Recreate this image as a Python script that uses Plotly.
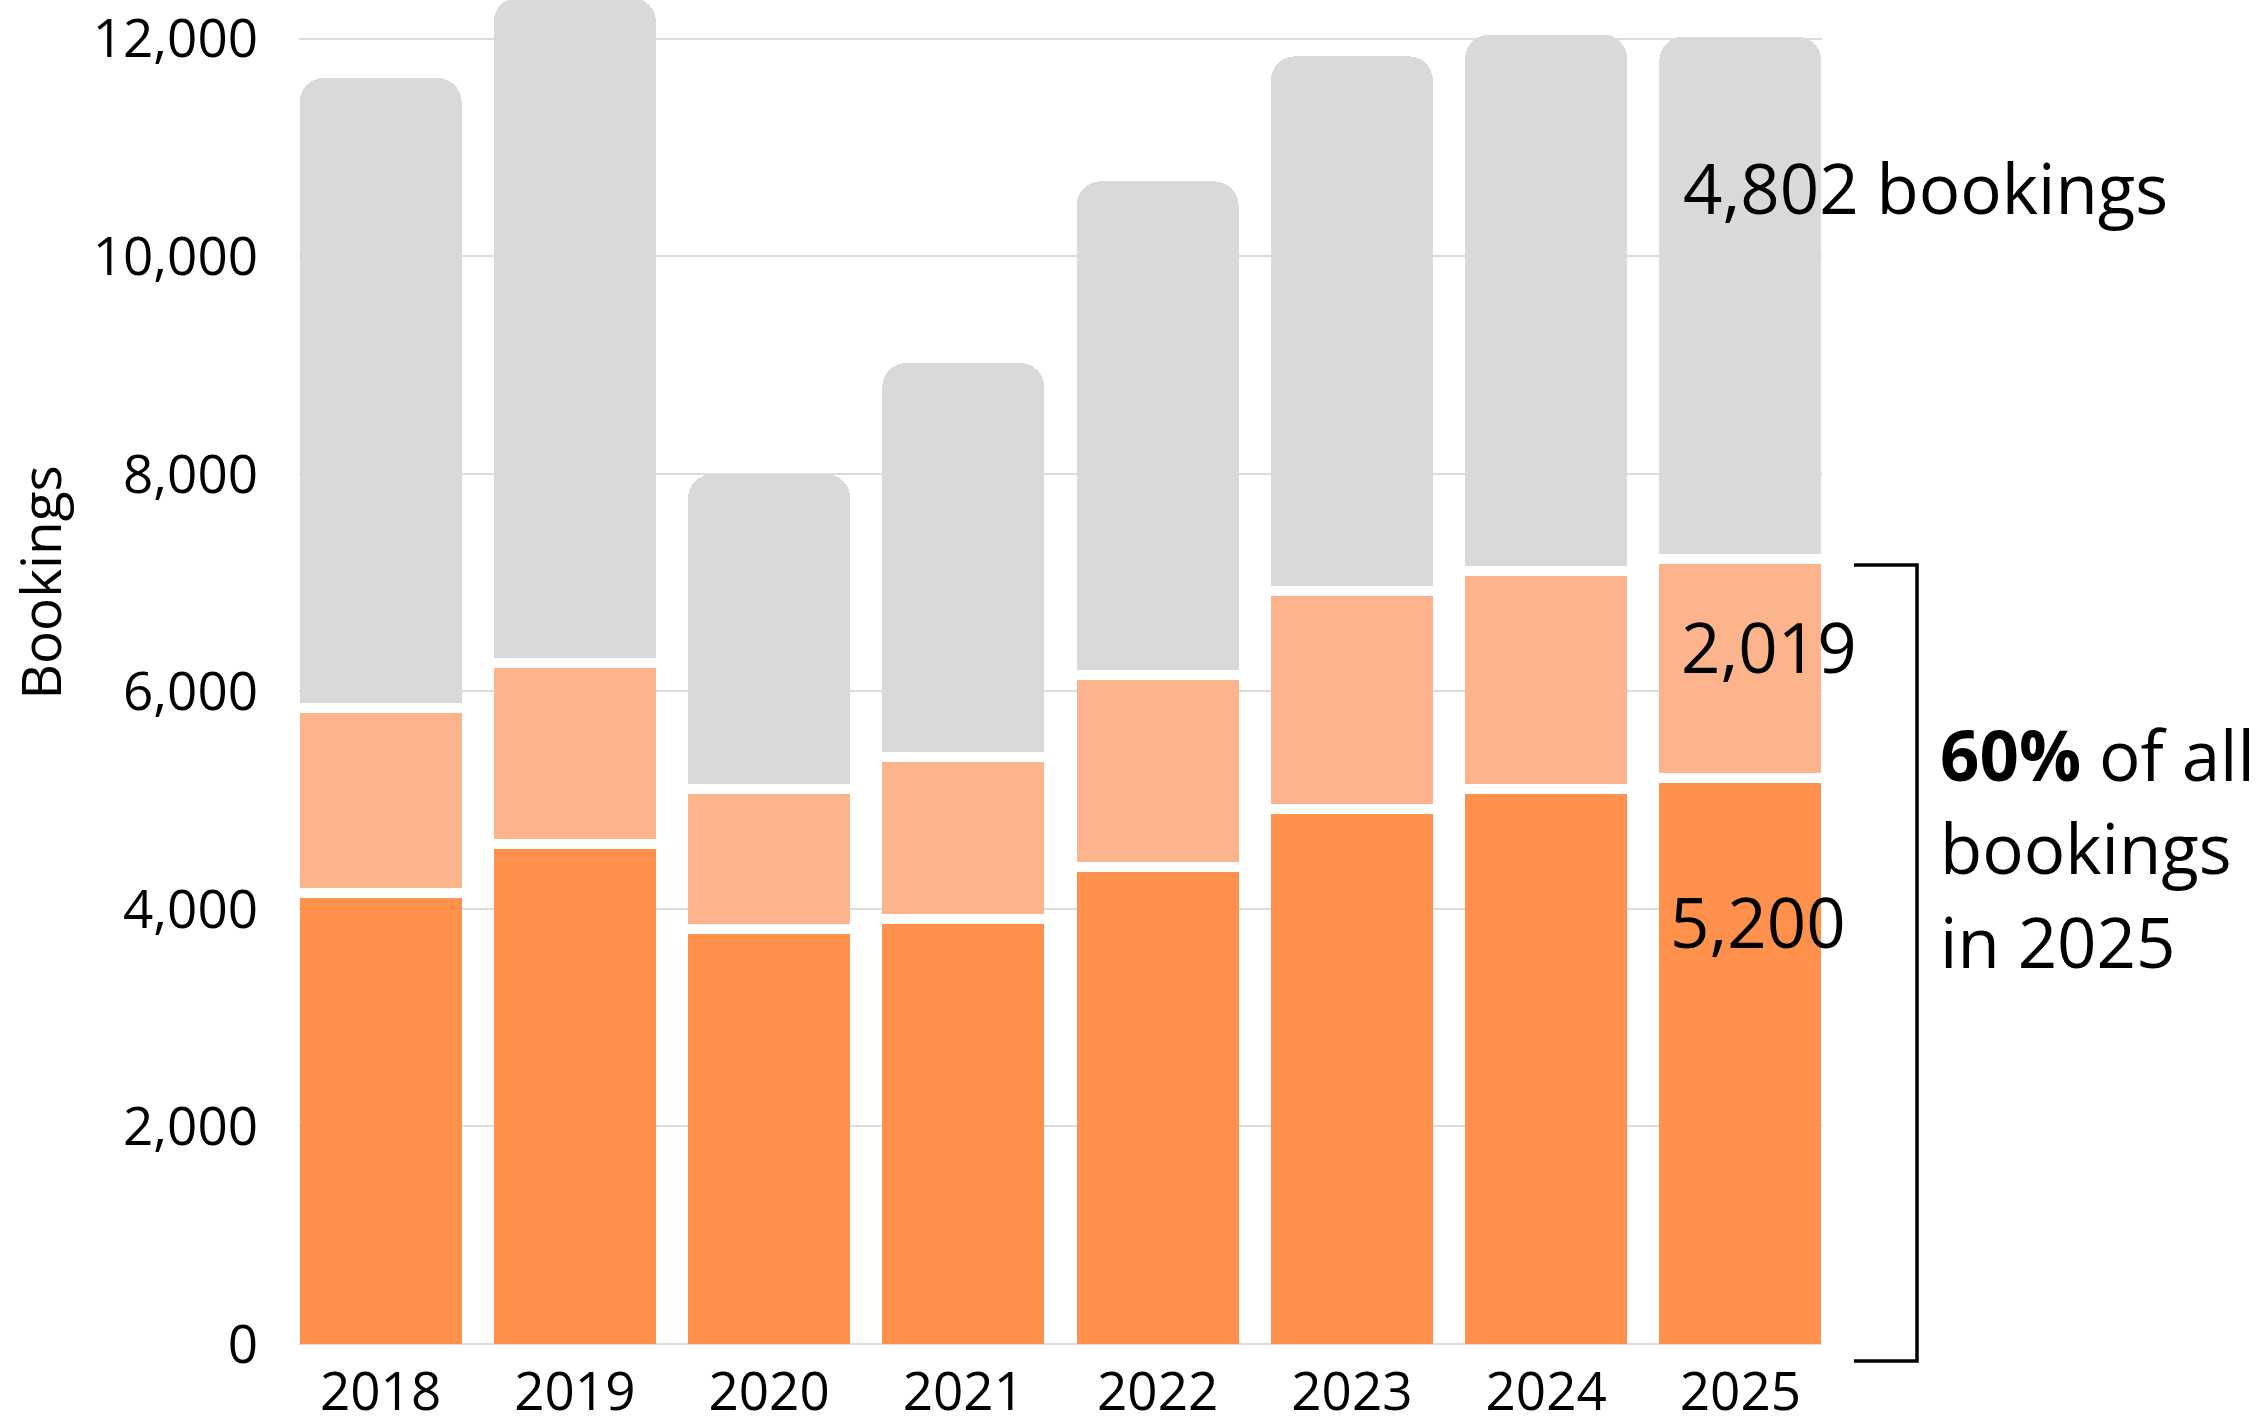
import plotly.graph_objects as go

years = ["2018", "2019", "2020", "2021", "2022", "2023", "2024", "2025"]
dark_vals = [4150, 4600, 3815, 3910, 4390, 4915, 5100, 5200]
light_vals = [1700, 1660, 1290, 1490, 1765, 2010, 2010, 2019]
totals = [11640, 12380, 8000, 9020, 10690, 11840, 12040, 12021]
gray_vals = [t - d - l for t, d, l in zip(totals, dark_vals, light_vals)]
y_ticks = [0, 2000, 4000, 6000, 8000, 10000, 12000]
y_tick_text = ["0", "2,000", "4,000", "6,000", "8,000", "10,000", "12,000"]

DARK = "#FF914D"
LIGHT = "#FDB48C"
GRAY = "#D9D9D9"
FONT = "Open Sans"

W, H = 2267, 1426
L, R, T, B = 299, 445, 0, 82
PW = W - L - R
PH = H - T - B
Y_MAX = 12358
GAP_PX = 10                      # white separator between stacked segments
gap = GAP_PX * Y_MAX / PH        # in axis units


def px_x(px):
    return (px - L) / PW


def px_y(py):
    return (H - B - py) / PH


# stacked segments, each boundary split by a thin white separator
dark_h = [d - gap / 2 for d in dark_vals]
light_h = [l - gap for l in light_vals]
gray_h = [g - gap / 2 for g in gray_vals]
sep_h = [gap] * len(years)

fig = go.Figure()
for name, h, col in [
    ("Dark", dark_h, DARK),
    ("sep1", sep_h, "white"),
    ("Light", light_h, LIGHT),
    ("sep2", sep_h, "white"),
    ("Gray", gray_h, GRAY),
]:
    fig.add_trace(go.Bar(
        x=years, y=h, name=name,
        marker=dict(color=col, line=dict(width=0)),
        hoverinfo="skip",
    ))

fig.update_layout(
    width=W, height=H,
    margin=dict(l=L, r=R, t=T, b=B, pad=0, autoexpand=False),
    barmode="stack",
    bargap=0.166,
    barcornerradius=24,
    showlegend=False,
    plot_bgcolor="white",
    paper_bgcolor="white",
    font=dict(family=FONT, color="black"),
)
fig.update_xaxes(
    type="category", range=[-0.42, 7.42], showgrid=False, showline=False,
    ticks="", tickfont=dict(family=FONT, size=53, color="black"),
    ticklabelstandoff=12, automargin=False,
)
fig.update_yaxes(
    range=[0, Y_MAX], tickvals=y_ticks, ticktext=y_tick_text,
    showgrid=True, gridcolor="#DCDCDC", gridwidth=2,
    zeroline=True, zerolinecolor="#DCDCDC", zerolinewidth=2,
    showline=False, ticks="",
    tickfont=dict(family=FONT, size=53, color="black"),
    ticklabelstandoff=40, automargin=False,
)

ann_font = dict(family=FONT, size=69, color="black")
anns = [
    ("4,802 bookings", 1681, 187),
    ("2,019", 1679, 646),
    ("5,200", 1668, 921),
    ("<b>60%</b> of all", 1938, 754),
    ("bookings", 1938, 847),
    ("in 2025", 1938, 941),
]
for txt, x, y in anns:
    fig.add_annotation(
        text=txt, xref="paper", yref="paper", x=px_x(x), y=px_y(y),
        xanchor="left", yanchor="middle", showarrow=False, font=ann_font,
    )

fig.add_annotation(
    text="Bookings", xref="paper", yref="paper", x=px_x(0), y=px_y(583),
    xanchor="left", yanchor="middle", textangle=-90, showarrow=False,
    borderpad=0, font=dict(family=FONT, size=55, color="black"),
)

# bracket around the 2025 orange segments
x0, x1 = px_x(1854), px_x(1917)
y_top, y_bot = px_y(565), px_y(1361)
fig.add_shape(type="path", xref="paper", yref="paper",
              path=f"M {x0},{y_top} L {x1},{y_top} L {x1},{y_bot} L {x0},{y_bot}",
              line=dict(color="black", width=3.5))

fig.write_html("out.html", config={"displayModeBar": False},
               post_script="document.body.style.margin='0';")
